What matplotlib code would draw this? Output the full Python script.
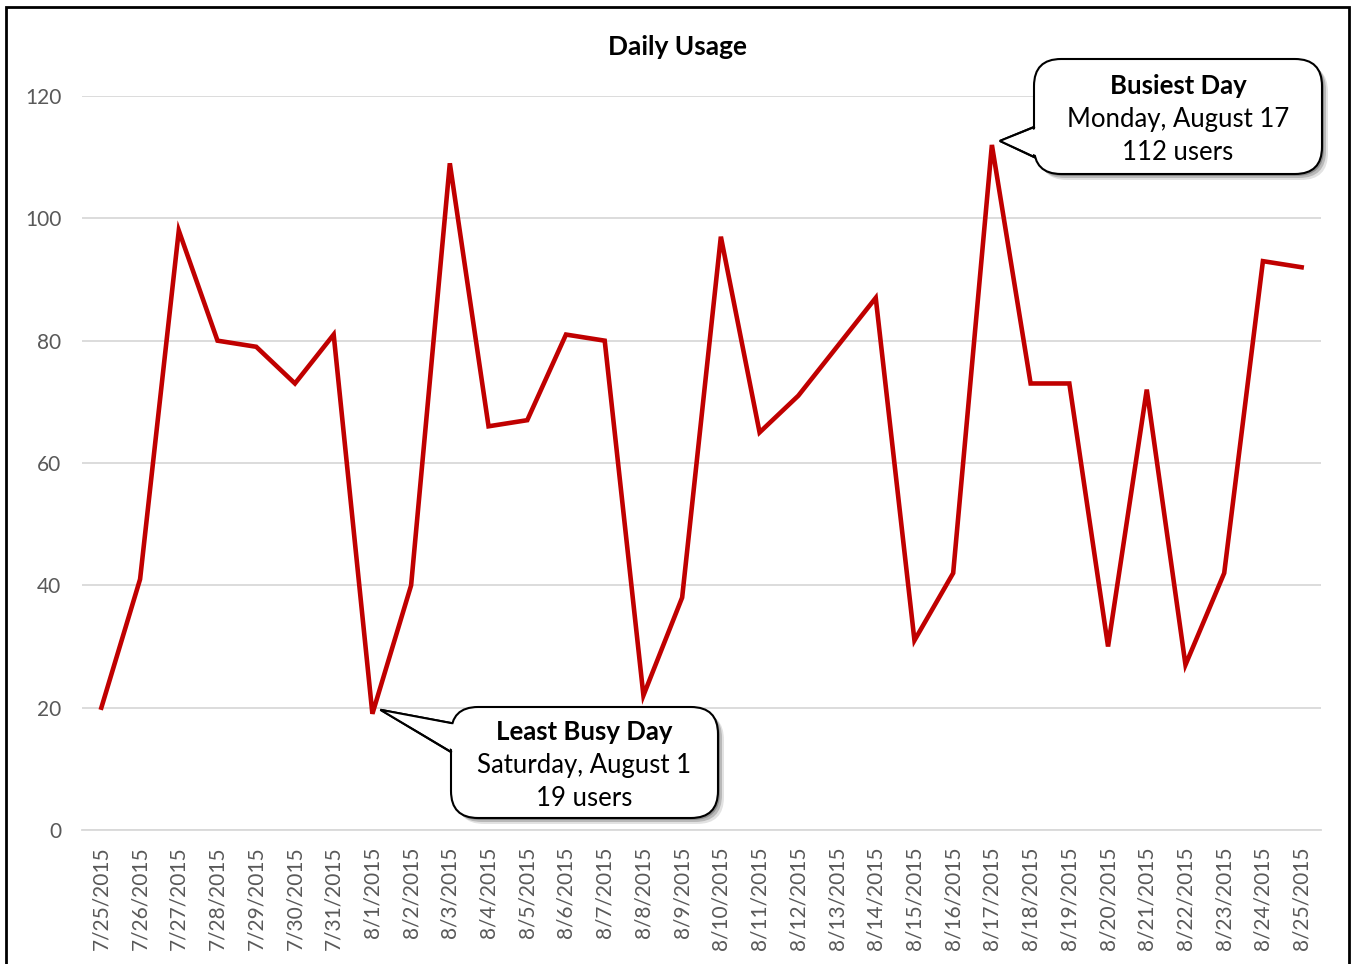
import matplotlib
matplotlib.use('Agg')
import matplotlib.pyplot as plt
from matplotlib.patches import FancyBboxPatch, Polygon, Rectangle

plt.rcParams['font.family'] = ['Lato', 'DejaVu Sans']

# Daily usage values, 7/25/2015 - 8/25/2015
dates = ['7/25/2015', '7/26/2015', '7/27/2015', '7/28/2015', '7/29/2015', '7/30/2015',
         '7/31/2015', '8/1/2015', '8/2/2015', '8/3/2015', '8/4/2015', '8/5/2015',
         '8/6/2015', '8/7/2015', '8/8/2015', '8/9/2015', '8/10/2015', '8/11/2015',
         '8/12/2015', '8/13/2015', '8/14/2015', '8/15/2015', '8/16/2015', '8/17/2015',
         '8/18/2015', '8/19/2015', '8/20/2015', '8/21/2015', '8/22/2015', '8/23/2015',
         '8/24/2015', '8/25/2015']
users = [20, 41, 98, 80, 79, 73, 81, 19, 40, 109, 66, 67, 81, 80, 22, 38, 97, 65,
         71, 79, 87, 31, 42, 112, 73, 73, 30, 72, 27, 42, 93, 92]
y_ticks = [0, 20, 40, 60, 80, 100, 120]

busiest_text = ['Busiest Day', 'Monday, August 17', '112 users']
least_text = ['Least Busy Day', 'Saturday, August 1', '19 users']

W, H = 1352, 964
fig = plt.figure(figsize=(W / 100, H / 100), dpi=100)
ax = fig.add_axes([82 / W, 1 - 830 / H, (1321 - 82) / W, (830 - 96) / H])

x = list(range(len(dates)))
ax.plot(x, users, color='#C00000', lw=3.3, solid_joinstyle='miter', zorder=3)

ax.set_xlim(-0.5, len(dates) - 0.5)
ax.set_ylim(0, 120)
ax.set_yticks(y_ticks)
ax.set_xticks(x)
ax.set_xticklabels(dates, rotation=90)
ax.tick_params(axis='both', length=0, colors='#595959', labelsize=15)
ax.tick_params(axis='y', pad=15)
ax.tick_params(axis='x', pad=12)
ax.grid(axis='y', color='#D9D9D9', lw=1.3)
ax.set_axisbelow(True)
for s in ['top', 'right', 'left']:
    ax.spines[s].set_visible(False)
ax.spines['bottom'].set_color('#D9D9D9')
ax.spines['bottom'].set_linewidth(1.3)

fig.text(678 / W, 1 - 47 / H, 'Daily Usage', ha='center', va='center',
         fontsize=19, fontweight='bold', color='black')

# outer border
fig.patches.append(Rectangle((6 / W, -0.05), (1349 - 6) / W, 1 - 7 / H + 0.05,
                             transform=fig.transFigure, fill=False, ec='black', lw=2))


def px(x, y):
    return (x / W, 1 - y / H)


def callout(x0, y0, x1, y1, tail, lines, tip_idx):
    # tip from the data point, in pixels (y measured from top)
    tx, ty = ax.transData.transform((tip_idx, users[tip_idx]))
    tip = (tx + 8, H - ty - 4)
    tri = [px(*tail[0]), px(*tip), px(*tail[1])]
    for dx, dy, a in [(6, 6, 0.15), (4, 4, 0.25), (2, 2, 0.35)]:
        sh_box = FancyBboxPatch(px(x0 + dx, y1 + dy), (x1 - x0) / W, (y1 - y0) / H,
                                boxstyle='round,pad=0,rounding_size=0.02',
                                mutation_aspect=W / H,
                                transform=fig.transFigure, fc='#404040', ec='none',
                                alpha=a, zorder=5)
        fig.patches.append(sh_box)
    fig.patches.append(Polygon(tri, closed=True, transform=fig.transFigure,
                               fc='white', ec='black', lw=1.5, zorder=6))
    box = FancyBboxPatch(px(x0, y1), (x1 - x0) / W, (y1 - y0) / H,
                         boxstyle='round,pad=0,rounding_size=0.02',
                         mutation_aspect=W / H,
                         transform=fig.transFigure, fc='white', ec='black',
                         lw=1.5, zorder=7)
    fig.patches.append(box)
    inner = [px(tail[0][0] + 3, tail[0][1] + 1.5), px(*tip), px(tail[1][0] + 3, tail[1][1] - 1.5)]
    fig.patches.append(Polygon(inner, closed=True, transform=fig.transFigure,
                               fc='white', ec='none', zorder=8))
    fig.lines.append(plt.Line2D([tri[0][0], tri[1][0], tri[2][0]],
                                [tri[0][1], tri[1][1], tri[2][1]],
                                transform=fig.transFigure, color='black', lw=1.5,
                                solid_joinstyle='miter', zorder=9))
    cx = (x0 + x1) / 2
    cy = (y0 + y1) / 2 + 3
    for i, t in enumerate(lines):
        fig.text(cx / W, 1 - (cy + (i - 1) * 33.5) / H, t, ha='center', va='center',
                 fontsize=18.5, fontweight='bold' if i == 0 else 'normal',
                 color='black', zorder=10)


callout(1034, 59, 1322, 174, [(1034, 127), (1034, 157)], busiest_text,
        users.index(max(users)))
callout(451, 707, 718, 818, [(451, 723), (451, 752)], least_text,
        users.index(min(users)))

fig.savefig('out.png', dpi=100)
